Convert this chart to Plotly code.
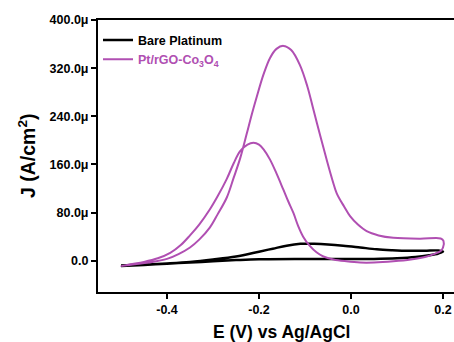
import plotly.graph_objects as go

# Data (J in µA/cm^2, E in V vs Ag/AgCl)
E_bare = [-0.50, -0.45, -0.40, -0.35, -0.30, -0.25, -0.20, -0.17, -0.14, -0.11, -0.08, -0.05, -0.017,
          0.02, 0.056, 0.09, 0.128, 0.16, 0.19, 0.20,
          0.19, 0.17, 0.14, 0.10, 0.05, 0.0, -0.10, -0.20, -0.25, -0.30, -0.35, -0.40, -0.45, -0.50]
J_bare = [-8, -6.5, -4.5, -2, 2, 7, 15, 20, 25, 28, 28, 27, 25,
          22, 19, 17.5, 16.5, 16.5, 17, 15,
          12, 9, 6, 4, 3, 3, 3, 2.5, 1, -1, -3, -5, -7, -9]

E_pt = [-0.50, -0.47, -0.44, -0.40, -0.375, -0.35, -0.33, -0.307, -0.29, -0.27, -0.255, -0.241,
        -0.227, -0.215, -0.205, -0.19, -0.176, -0.162, -0.147, -0.13, -0.111, -0.095, -0.082,
        -0.067, -0.053, -0.04, -0.031, -0.015, -0.002, 0.015, 0.034, 0.06, 0.092, 0.15, 0.195,
        0.201, 0.200, 0.195,
        0.18, 0.165, 0.13, 0.092, 0.05, 0.02, -0.01, -0.038, -0.06, -0.075, -0.09, -0.104,
        -0.115, -0.125, -0.136, -0.147, -0.162, -0.176, -0.19, -0.20, -0.212, -0.225, -0.241,
        -0.255, -0.27, -0.29, -0.307, -0.33, -0.35, -0.37, -0.393, -0.42, -0.45, -0.48, -0.50]
J_pt = [-9, -6, -3, 3, 11, 22, 35, 55, 77, 105, 138, 170,
        210, 245, 272, 310, 337, 352, 357, 350, 325, 290, 252,
        208, 168, 133, 112, 90, 74, 60, 49, 42, 38, 36.5, 37,
        33, 22, 16,
        11, 7, 2, -1, -3, -3, -1, 2, 7, 14, 25, 40,
        58, 79, 98, 118, 145, 168, 185, 193, 196, 193, 182,
        162, 136, 107, 85, 60, 42, 26, 13, 4, -2, -6, -9]

y_tickvals = [0, 80, 160, 240, 320, 400]
y_ticktext = ["0.0", "80.0\u03bc", "160.0\u03bc", "240.0\u03bc", "320.0\u03bc", "400.0\u03bc"]
x_tickvals = [-0.4, -0.2, 0.0, 0.2]
x_ticktext = ["-0.4", "-0.2", "0.0", "0.2"]

PINK = "#B04FB2"
FONT = "Liberation Sans"

fig = go.Figure()
fig.add_trace(go.Scatter(x=E_bare, y=J_bare, mode="lines", name="Bare Platinum",
                         line=dict(color="black", width=2.5, shape="spline", smoothing=1.0)))
fig.add_trace(go.Scatter(x=E_pt, y=J_pt, mode="lines",
                         name=f'<span style="color:{PINK}">Pt/rGO-Co<sub>3</sub>O<sub>4</sub></span>',
                         line=dict(color=PINK, width=2, shape="spline", smoothing=1.0)))

fig.update_layout(
    width=454, height=342,
    margin=dict(l=98, r=0, t=20, b=50),
    paper_bgcolor="white", plot_bgcolor="white",
    font=dict(family=FONT, size=12.5, color="black"),
    showlegend=True,
    legend=dict(x=0.0, y=0.98, xanchor="left", yanchor="top", bgcolor="rgba(0,0,0,0)",
                font=dict(family=FONT, size=12.5, color="black", weight="bold"),
                tracegroupgap=0, itemwidth=30),
    xaxis=dict(range=[-0.55, 0.2239], tickvals=x_tickvals, ticktext=x_ticktext,
               showline=True, linecolor="black", linewidth=2, mirror=True,
               ticks="outside", ticklen=5, tickwidth=2, tickcolor="black",
               showgrid=False, zeroline=False,
               tickfont=dict(family=FONT, size=12.5, color="black", weight="bold")),
    yaxis=dict(range=[-52, 400], tickvals=y_tickvals, ticktext=y_ticktext,
               showline=True, linecolor="black", linewidth=2, mirror=False,
               ticks="outside", ticklen=5, tickwidth=2, tickcolor="black",
               showgrid=False, zeroline=False,
               tickfont=dict(family=FONT, size=12.5, color="black", weight="bold")),
    annotations=[
        dict(text="<b>E (V) vs Ag/AgCl</b>", xref="paper", yref="paper",
             x=(281 - 98) / 356, y=-(331.5 - 292) / 272, xanchor="center", yanchor="middle",
             showarrow=False, font=dict(family=FONT, size=17.5, color="black")),
        dict(text="<b>J (A/cm<sup>2</sup>)</b>", xref="paper", yref="paper",
             x=-(98 - 27) / 356, y=0.5, xanchor="center", yanchor="middle", textangle=-90,
             showarrow=False, font=dict(family=FONT, size=19.5, color="black")),
    ],
)

fig.write_html("out.html")
